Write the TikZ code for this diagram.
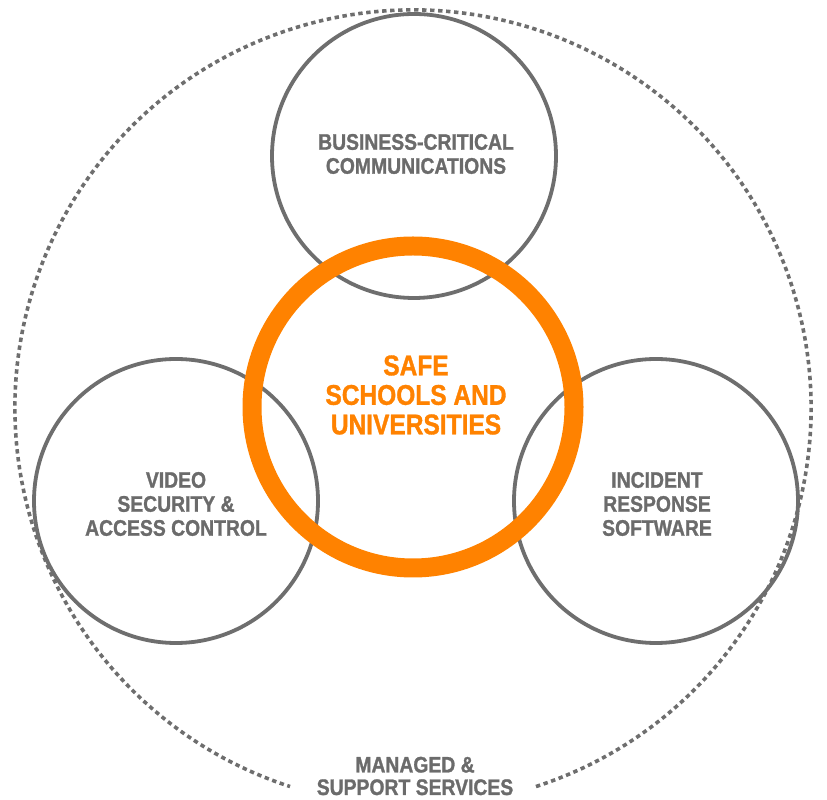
\documentclass[tikz,border=0pt]{standalone}
\usepackage{fontspec}
\setmainfont{Liberation Sans}[FakeStretch=0.86,BoldFeatures={FakeBold=1.2}]
\definecolor{ringgray}{HTML}{6E6E6E}
\definecolor{txtgray}{HTML}{6B6B6B}
\definecolor{safeorange}{RGB}{255,130,0}
\tikzset{
  bubble/.style={circle, draw=ringgray, line width=3.8pt, minimum size=284pt, inner sep=0pt},
  core/.style={circle, draw=safeorange, line width=19pt, minimum size=322pt, inner sep=0pt},
  graylabel/.style={text=txtgray, align=center, font=\bfseries\fontsize{22.5}{24}\selectfont, inner sep=0pt},
  orangelabel/.style={text=safeorange, align=center, font=\bfseries\fontsize{28.5}{29.5}\selectfont, inner sep=0pt},
  outerlabel/.style={text=txtgray, align=center, font=\bfseries\fontsize{22.5}{22.5}\selectfont, inner sep=0pt},
  dotring/.style={draw=ringgray, line width=3.6pt, dash pattern=on 4.4pt off 3.6pt}
}
\begin{document}
\begin{tikzpicture}[x=1pt,y=1pt]
\useasboundingbox (0,0) rectangle (827,800);
% outer dotted ring with a gap at the bottom
\coordinate (outer) at (413,392);
\draw[dotring] (outer) ++(288:398pt) arc[start angle=288, end angle=612, radius=398pt];
% gray circles
\node[bubble] (top) at (414,644) {};
\node[bubble] (left) at (176,299) {};
\node[bubble] (right) at (656,299) {};
% orange ring
\node[core] (centre) at (413,393) {};
% labels
\node[graylabel] (toplbl) at (416,646) {BUSINESS-CRITICAL\\COMMUNICATIONS};
\node[graylabel] (leftlbl) at (176,296) {VIDEO\\SECURITY \&\\ACCESS CONTROL};
\node[graylabel] (rightlbl) at (657,296) {INCIDENT\\RESPONSE\\SOFTWARE};
\node[orangelabel] (centrelbl) at (416,405) {SAFE\\SCHOOLS AND\\UNIVERSITIES};
\node[outerlabel] (outerlbl) at (415,24) {MANAGED \&\\SUPPORT SERVICES};
\end{tikzpicture}
\end{document}
